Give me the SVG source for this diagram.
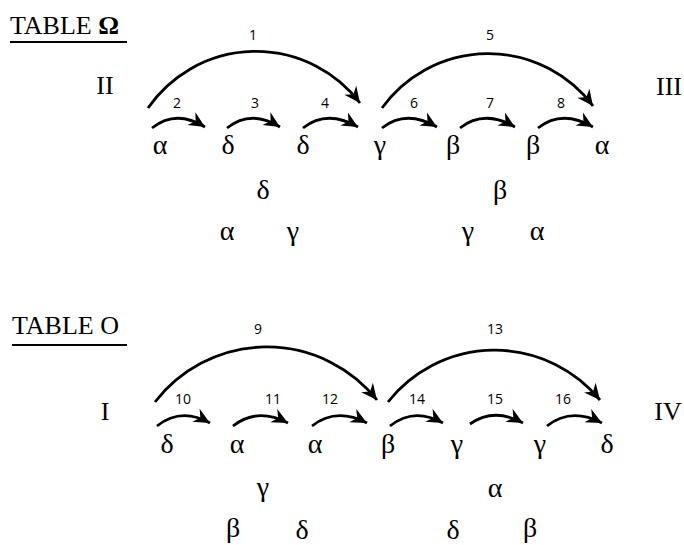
<svg xmlns="http://www.w3.org/2000/svg" width="684" height="545" viewBox="0 0 684 545">
<defs>
<marker id="ah" markerUnits="userSpaceOnUse" viewBox="-18 -9 20 18" refX="0" refY="0" markerWidth="20" markerHeight="18" orient="auto">
<path d="M0,0 L-16,-7.5 L-11,0 L-16,7.5 Z" fill="#000"/>
</marker>
<style>
.arc{fill:none;stroke:#000;stroke-width:2.8;marker-end:url(#ah)}
.g{font-family:"Liberation Serif","DejaVu Serif",serif;font-size:28px;text-anchor:middle;fill:#000}
.r{font-family:"Liberation Serif","DejaVu Serif",serif;font-size:26px;text-anchor:middle;fill:#000}
.t{font-family:"Liberation Serif","DejaVu Serif",serif;font-size:26px;fill:#000}
.n{font-family:"Open Sans","Liberation Sans",sans-serif;font-size:14px;text-anchor:middle;fill:#000}
</style>
</defs>
<rect width="684" height="545" fill="#fff"/>
<g id="title-omega"><text class="t" x="10" y="34">TABLE <tspan font-weight="bold">Ω</tspan></text><line x1="10" y1="42" x2="127" y2="42" stroke="#000" stroke-width="2"/></g>
<g id="title-o"><text class="t" x="12" y="334">TABLE O</text><line x1="12" y1="345" x2="127" y2="345" stroke="#000" stroke-width="2"/></g>
<g id="connectors">
<path class="arc" d="M148,108 A131,131 0 0 1 360,103"/>
<path class="arc" d="M382,108 A131,131 0 0 1 593,106"/>
<path class="arc" d="M152,128 Q176,109 205,127"/>
<path class="arc" d="M227,128 Q251,109 280,127"/>
<path class="arc" d="M303,128 Q327,109 358,127"/>
<path class="arc" d="M382,128 Q406,109 437,127"/>
<path class="arc" d="M460,128 Q484,109 515,127"/>
<path class="arc" d="M538,128 Q562,109 593,127"/>
<path class="arc" d="M155,402 A141,141 0 0 1 377,400"/>
<path class="arc" d="M388,402 A136,136 0 0 1 600,400"/>
<path class="arc" d="M157,426 Q181,407 210,423"/>
<path class="arc" d="M233,426 Q257,407 288,423"/>
<path class="arc" d="M312,426 Q336,407 367,423"/>
<path class="arc" d="M390,426 Q414,407 443,423"/>
<path class="arc" d="M470,424 Q494,407 523,423"/>
<path class="arc" d="M547,426 Q571,407 602,423"/>
</g>
<g id="labels-top">
<text class="n" x="253" y="40">1</text>
<text class="n" x="177" y="108">2</text>
<text class="n" x="255" y="108">3</text>
<text class="n" x="325" y="108">4</text>
<text class="n" x="490" y="40">5</text>
<text class="n" x="414" y="108">6</text>
<text class="n" x="490" y="108">7</text>
<text class="n" x="561" y="108">8</text>
</g>
<g id="labels-bottom">
<text class="n" x="258" y="334">9</text>
<text class="n" x="183" y="404">10</text>
<text class="n" x="273" y="404">11</text>
<text class="n" x="330" y="404">12</text>
<text class="n" x="495" y="334">13</text>
<text class="n" x="417" y="404">14</text>
<text class="n" x="495" y="404">15</text>
<text class="n" x="563" y="404">16</text>
</g>
<g id="roman">
<text class="r" x="105" y="94">II</text>
<text class="r" x="669" y="95">III</text>
<text class="r" x="105" y="420">I</text>
<text class="r" x="668" y="420">IV</text>
</g>
<g id="table-omega">
<text class="g" x="160" y="154">α</text>
<text class="g" x="228" y="154">δ</text>
<text class="g" x="303" y="154">δ</text>
<text class="g" x="380" y="154">γ</text>
<text class="g" x="453" y="154">β</text>
<text class="g" x="533" y="154">β</text>
<text class="g" x="602" y="154">α</text>
<text class="g" x="263" y="199">δ</text>
<text class="g" x="500" y="199">β</text>
<text class="g" x="227" y="240">α</text>
<text class="g" x="293" y="240">γ</text>
<text class="g" x="468" y="240">γ</text>
<text class="g" x="537" y="240">α</text>
</g>
<g id="table-o">
<text class="g" x="167" y="453">δ</text>
<text class="g" x="237" y="453">α</text>
<text class="g" x="315" y="453">α</text>
<text class="g" x="388" y="453">β</text>
<text class="g" x="457" y="453">γ</text>
<text class="g" x="540" y="453">γ</text>
<text class="g" x="607" y="453">δ</text>
<text class="g" x="263" y="496">γ</text>
<text class="g" x="495" y="497">α</text>
<text class="g" x="233" y="537">β</text>
<text class="g" x="302" y="539">δ</text>
<text class="g" x="453" y="539">δ</text>
<text class="g" x="530" y="537">β</text>
</g>
</svg>
